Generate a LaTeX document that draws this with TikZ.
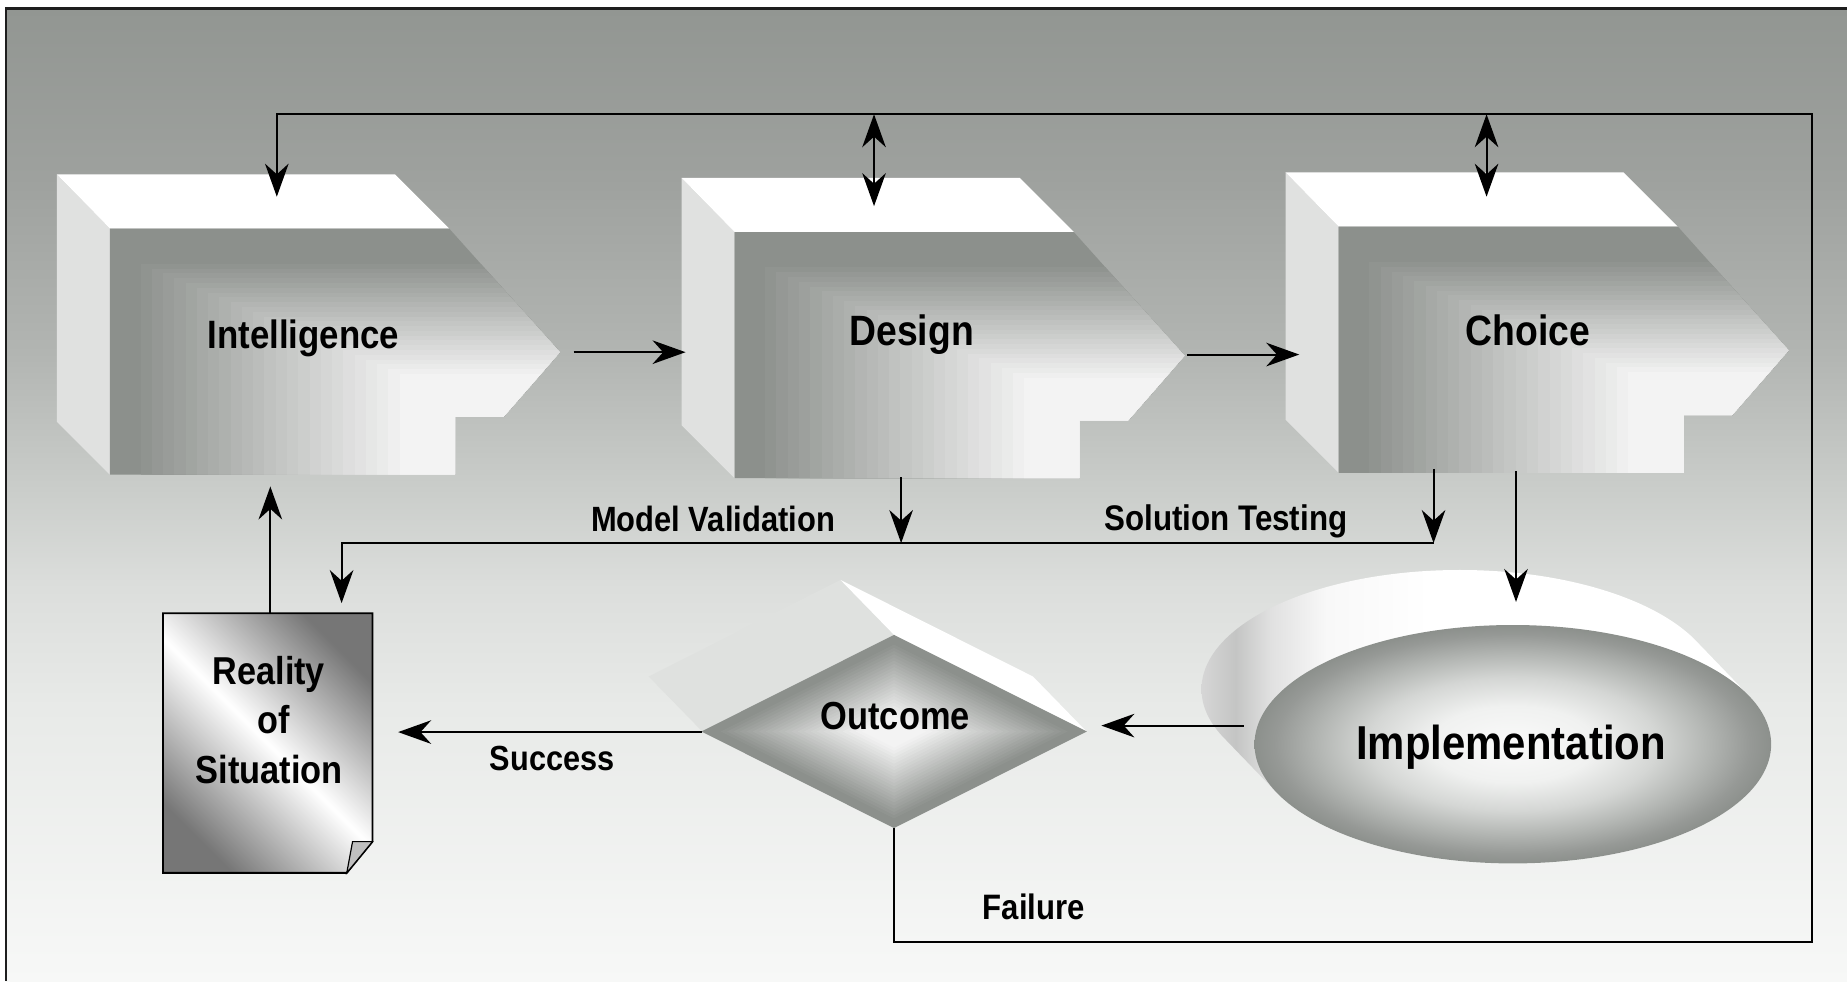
\documentclass[tikz,border=0pt]{standalone}
\usepackage{fontspec}
\setmainfont{Liberation Sans}
\newfontfamily\lblfont[FakeStretch=0.88]{Liberation Sans}
\usetikzlibrary{arrows.meta}

\definecolor{bgA}{RGB}{146,150,146}
\definecolor{bgB}{RGB}{158,161,158}
\definecolor{bgC}{RGB}{178,181,178}
\definecolor{bgD}{RGB}{203,206,203}
\definecolor{bgE}{RGB}{220,222,220}
\definecolor{bgF}{RGB}{232,234,232}
\definecolor{bgG}{RGB}{247,248,247}
\definecolor{faceDark}{RGB}{140,144,140}
\definecolor{faceLight}{RGB}{243,243,243}
\definecolor{sideGray}{RGB}{224,225,224}
\definecolor{diaSide}{RGB}{223,225,223}
\definecolor{docDark}{RGB}{118,118,118}
\definecolor{wallA}{RGB}{214,214,214}
\definecolor{wallB}{RGB}{196,197,196}
\definecolor{wallC}{RGB}{224,224,224}
\definecolor{wallD}{RGB}{248,248,248}
\definecolor{ellA}{RGB}{250,250,250}
\definecolor{ellB}{RGB}{240,241,240}
\definecolor{ellC}{RGB}{212,214,212}
\definecolor{ellD}{RGB}{178,181,178}
\definecolor{ellE}{RGB}{150,153,150}
\definecolor{frameCol}{RGB}{30,30,30}

\pgfdeclareverticalshading{bgshade}{100bp}{color(0bp)=(bgG); color(25bp)=(bgG); color(39.1bp)=(bgF); color(45.2bp)=(bgE); color(50bp)=(bgD); color(57.3bp)=(bgC); color(66.3bp)=(bgB); color(75bp)=(bgA); color(100bp)=(bgA)}
\pgfdeclareradialshading{ellshade}{\pgfpoint{0bp}{0bp}}{color(0bp)=(ellA); color(8bp)=(ellB); color(14bp)=(ellC); color(19bp)=(ellD); color(23bp)=(ellE); color(25bp)=(faceDark); color(50bp)=(faceDark)}
\pgfdeclarehorizontalshading{cylwall}{100bp}{color(0bp)=(wallA); color(25bp)=(wallA); color(28bp)=(wallB); color(31bp)=(wallC); color(36bp)=(wallD); color(45bp)=(white); color(100bp)=(white)}

\newcommand\fsz[1]{\fontsize{#1}{#1}\selectfont}

\tikzset{
  conn/.style={line width=0.85pt, draw=black},
  lbl/.style={inner sep=0pt, anchor=base, text=black},
}

% 3D box: #1,#2 = front top-left corner
\newcommand\dssbox[2]{%
\begin{scope}[shift={(#1,#2)}]
  \fill[sideGray] (-45,-46) -- (0,0) -- (0,209) -- (-45,164) -- cycle;
  \fill[white] (-45,-46) -- (242,-46) -- (288,0) -- (0,0) -- cycle;
  \begin{scope}
    \clip (0,0) -- (288,0) -- (382,105) -- (334,160) -- (293,160) -- (293,209) -- (0,209) -- cycle;
    \fill[faceDark] (-5,-5) rectangle (400,220);
    \foreach \k in {1,...,24} {
      \pgfmathsetmacro\xk{26+(\k-1)*220/23}
      \pgfmathsetmacro\yk{30+(\k-1)*93.5/23}
      \pgfmathsetmacro\wk{100*\k/24}
      \fill[faceLight!\wk!faceDark] (\xk,\yk) rectangle (400,220);
    }
  \end{scope}
\end{scope}}

\begin{document}
\begin{tikzpicture}[x=0.5pt,y=-0.5pt,>={Stealth[length=14pt,width=10pt,inset=4.5pt]}]
\useasboundingbox (0,0) rectangle (1568,833);
\fill[white] (0,0) rectangle (1568,833);
\shade[shading=bgshade] (5,7) rectangle (1568,833);
\draw[frameCol,line width=1.1pt] (5,833) -- (5,7) -- (1568,7);

% boxes
\dssbox{93.3}{194}
\dssbox{623.6}{197}
\dssbox{1136.4}{192.4}

% Outcome diamond
\fill[diaSide] (596.2,621) -- (759,539) -- (713.5,492.3) -- (550.7,574.3) -- cycle;
\fill[white] (759,539) -- (922.4,621) -- (876.9,574.3) -- (713.5,492.3) -- cycle;
\foreach \i in {0,...,29} {
  \pgfmathsetmacro\s{1-\i/30}
  \pgfmathsetmacro\w{max(0,min(100,(0.93-\s)/0.75*100))}
  \fill[faceLight!\w!faceDark] (759,{621-82*\s}) -- ({759+163.6*\s},621) -- (759,{621+82*\s}) -- ({759-163.6*\s},621) -- cycle;
}

% Implementation cylinder
\shade[shading=cylwall] \foreach \t in {0,0.05,...,1.01} { ({1284.3-45*\t},{631.8-46.7*\t}) ellipse [x radius=219.3, y radius=101.2] };
\shade[shading=ellshade] (1284.3,631.8) ellipse [x radius=219.3, y radius=101.2];

% Reality document
\shade[top color=docDark, bottom color=docDark, middle color=white, shading angle=-45]
  (138.4,520.6) -- (316.2,520.6) -- (316.2,714.5) -- (294.4,741) -- (138.4,741) -- cycle;
\draw[line width=0.8pt] (138.4,520.6) -- (316.2,520.6) -- (316.2,714.5) -- (294.4,741) -- (138.4,741) -- cycle;
\filldraw[fill=black!25, line width=0.5pt] (294.4,741) -- (299.3,714.5) -- (316.2,714.5) -- cycle;

% named connector points
\coordinate (outBot) at (759,703);
\coordinate (fbB) at (759,800);
\coordinate (fbRB) at (1538,800);
\coordinate (fbRT) at (1538,97);
\coordinate (fbI) at (235,97);
\coordinate (intIn) at (235,167);
\coordinate (fbD) at (742,97);
\coordinate (desIn) at (742,175);
\coordinate (fbC) at (1262,97);
\coordinate (choIn) at (1262,167);
\coordinate (intOut) at (487,299);
\coordinate (desLeft) at (582,299);
\coordinate (desOut) at (1008,301);
\coordinate (choLeft) at (1103,301);
\coordinate (desBot) at (765,405);
\coordinate (mvJoin) at (765,461);
\coordinate (choBot) at (1217,398);
\coordinate (stJoin) at (1217,461);
\coordinate (mvCorner) at (290,461);
\coordinate (docIn) at (290,512);
\coordinate (docTop) at (229.5,520.6);
\coordinate (intBot) at (229.5,413);
\coordinate (outLeft) at (596.2,621.5);
\coordinate (docRight) at (338,621.5);
\coordinate (implLeft) at (1056,616);
\coordinate (outRight) at (935,616);
\coordinate (choBot2) at (1287,400);
\coordinate (implTop) at (1287,511);

% connectors
\draw[conn,->] (outBot) -- (fbB) -- (fbRB) -- (fbRT) -- (fbI) -- (intIn);
\draw[conn,<->] (fbD) -- (desIn);
\draw[conn,<->] (fbC) -- (choIn);
\draw[conn,->] (intOut) -- (desLeft);
\draw[conn,->] (desOut) -- (choLeft);
\draw[conn,->] (desBot) -- (mvJoin);
\draw[conn,->] (choBot) -- (stJoin);
\draw[conn,->] (stJoin) -- (mvCorner) -- (docIn);
\draw[conn,->] (docTop) -- (intBot);
\draw[conn,->] (outLeft) -- (docRight);
\draw[conn,->] (implLeft) -- (outRight);
\draw[conn,->] (choBot2) -- (implTop);

% labels
\node[lbl,font={\lblfont\bfseries\fsz{16.8}}] (tInt) at (257.6,295.7) {Intelligence};
\node[lbl,font={\lblfont\bfseries\fsz{18}}] (tDes) at (773.9,293.7) {Design};
\node[lbl,font={\lblfont\bfseries\fsz{18}}] (tCho) at (1297,293.7) {Choice};
\node[lbl,font={\lblfont\bfseries\fsz{14.9}}] (tMV) at (605.3,451.4) {Model Validation};
\node[lbl,font={\lblfont\bfseries\fsz{15.1}}] (tST) at (1040.6,450.5) {Solution Testing};
\node[lbl,font={\lblfont\bfseries\fsz{16.6}}] (tOut) at (760,619.7) {Outcome};
\node[lbl,font={\lblfont\bfseries\fsz{20.2}}] (tImpl) at (1282.8,645) {Implementation};
\node[lbl,font={\lblfont\bfseries\fsz{14.8}}] (tSucc) at (468.7,653.7) {Success};
\node[lbl,font={\lblfont\bfseries\fsz{15}}] (tFail) at (877.7,781) {Failure};
\node[lbl,font={\lblfont\bfseries\fsz{16.5}}] (tR1) at (228.3,581.5) {Reality};
\node[lbl,font={\lblfont\bfseries\fsz{16.5}}] (tR2) at (232.7,622.4) {of};
\node[lbl,font={\lblfont\bfseries\fsz{16.6}}] (tR3) at (228.7,665) {Situation};
\end{tikzpicture}
\end{document}
